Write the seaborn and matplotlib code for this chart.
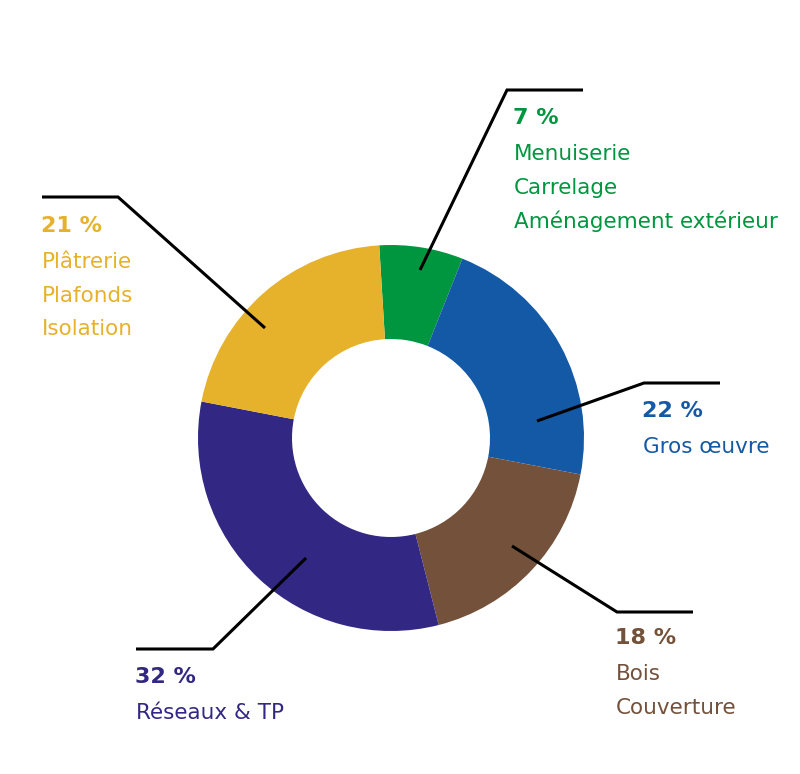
import matplotlib
matplotlib.use("Agg")
import matplotlib.pyplot as plt
import seaborn as sns

sns.set_theme(style="white")
plt.rcParams['font.family'] = ['DejaVu Sans']

categories = ["Menuiserie\nCarrelage\nAménagement extérieur", "Gros œuvre",
              "Bois\nCouverture", "Réseaux & TP", "Plâtrerie\nPlafonds\nIsolation"]
values = [7, 22, 18, 32, 21]
pct_labels = ["7 %", "22 %", "18 %", "32 %", "21 %"]
colors = ["#009640", "#1459A5", "#74513A", "#322883", "#E6B12B"]

W, H = 800, 774
fig = plt.figure(figsize=(8, 7.74), dpi=100)
ax = fig.add_axes([0, 0, 1, 1])

cx, cy = 391, H - 438
R = 193
ax.pie(values, colors=colors, startangle=93.5, counterclock=False,
       center=(cx, cy), radius=R, wedgeprops=dict(width=94, linewidth=0),
       frame=True)
ax.set_xlim(0, W)
ax.set_ylim(0, H)
ax.axis("off")

# leader lines (pixel coords from top-left): start on slice -> elbow -> end
leaders = [
    [(420, 270), (507, 90), (583, 90)],
    [(537, 421), (644, 383), (720, 383)],
    [(512, 546), (617, 612), (693, 612)],
    [(306, 558), (213, 649), (136, 649)],
    [(265, 328), (118, 197), (42, 197)],
]
text_pos = [(514, 118), (643, 411), (616, 638), (136, 677), (42, 226)]

for pts, (tx, ty), pct, cat, col in zip(leaders, text_pos, pct_labels, categories, colors):
    xs = [p[0] for p in pts]
    ys = [H - p[1] for p in pts]
    ax.plot(xs, ys, color="black", lw=2.2, solid_capstyle="butt", solid_joinstyle="miter")
    ax.text(tx - 1, H - ty, pct, color=col, fontsize=16, fontweight="bold",
            ha="left", va="center")
    for i, line in enumerate(cat.split("\n")):
        ax.text(tx, H - (ty + 36 + 33.5 * i), line, color=col, fontsize=15.5,
                ha="left", va="center")

fig.savefig("out.png", dpi=100, facecolor="white")
